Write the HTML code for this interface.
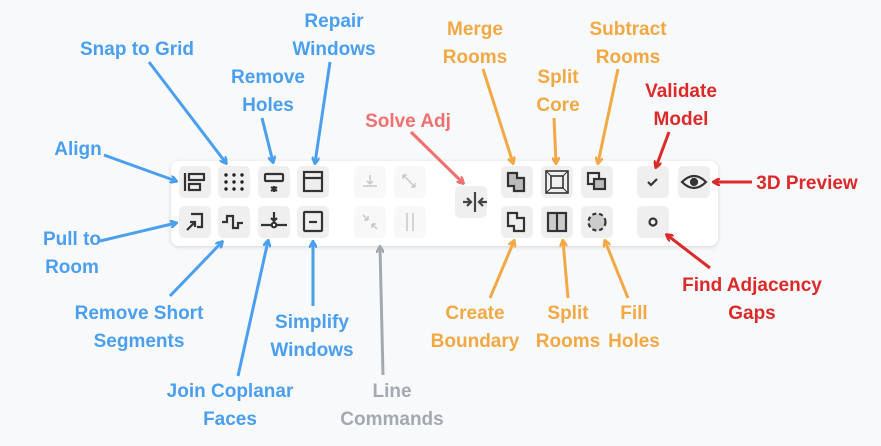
<!DOCTYPE html>
<html><head><meta charset="utf-8"><style>
html,body{margin:0;padding:0;background:#f8f9fb;}
svg{display:block}
text{font-family:"Liberation Sans",sans-serif;font-size:19px;font-weight:bold;text-anchor:middle}
.b{fill:#4a9ff0}.o{fill:#f2a844}.r{fill:#dc2a2a}.s{fill:#f07070}.g{fill:#a3a9b1}
</style></head><body>
<svg width="881" height="446" viewBox="0 0 881 446">
<defs>
<filter id="sh" x="-5%" y="-20%" width="110%" height="140%"><feDropShadow dx="0" dy="1" stdDeviation="2" flood-color="#000" flood-opacity="0.15"/></filter>
<marker id="ab" markerWidth="8" markerHeight="8" refX="6" refY="4" orient="auto" markerUnits="userSpaceOnUse"><path d="M0,0 L7,4 L0,8" fill="none" stroke="#4a9ff0" stroke-width="2.5"/></marker>
<marker id="ao" markerWidth="8" markerHeight="8" refX="6" refY="4" orient="auto" markerUnits="userSpaceOnUse"><path d="M0,0 L7,4 L0,8" fill="none" stroke="#f2a844" stroke-width="2.5"/></marker>
<marker id="ar" markerWidth="8" markerHeight="8" refX="6" refY="4" orient="auto" markerUnits="userSpaceOnUse"><path d="M0,0 L7,4 L0,8" fill="none" stroke="#dc2a2a" stroke-width="2.5"/></marker>
<marker id="as" markerWidth="8" markerHeight="8" refX="6" refY="4" orient="auto" markerUnits="userSpaceOnUse"><path d="M0,0 L7,4 L0,8" fill="none" stroke="#f07070" stroke-width="2.5"/></marker>
<marker id="ag" markerWidth="8" markerHeight="8" refX="6" refY="4" orient="auto" markerUnits="userSpaceOnUse"><path d="M0,0 L7,4 L0,8" fill="none" stroke="#a3a9b1" stroke-width="2.5"/></marker>
</defs>
<rect x="171" y="161" width="547" height="85" rx="8" fill="#fff" filter="url(#sh)"/>
<g fill="#efefef">
<rect x="179" y="166" width="32" height="32" rx="5"/><rect x="218" y="166" width="32" height="32" rx="5"/><rect x="258" y="166" width="32" height="32" rx="5"/><rect x="297" y="166" width="32" height="32" rx="5"/>
<rect x="179" y="206" width="32" height="32" rx="5"/><rect x="218" y="206" width="32" height="32" rx="5"/><rect x="258" y="206" width="32" height="32" rx="5"/><rect x="297" y="206" width="32" height="32" rx="5"/>
<rect x="455" y="186" width="32" height="32" rx="5"/>
<rect x="501" y="166" width="32" height="32" rx="5"/><rect x="541" y="166" width="32" height="32" rx="5"/><rect x="581" y="166" width="32" height="32" rx="5"/>
<rect x="501" y="206" width="32" height="32" rx="5"/><rect x="541" y="206" width="32" height="32" rx="5"/><rect x="581" y="206" width="32" height="32" rx="5"/>
<rect x="637" y="166" width="32" height="32" rx="5"/><rect x="678" y="166" width="32" height="32" rx="5"/><rect x="637" y="206" width="32" height="32" rx="5"/>
</g>
<g fill="#f8f8f8"><rect x="354" y="166" width="32" height="32" rx="5"/><rect x="394" y="166" width="32" height="32" rx="5"/><rect x="354" y="206" width="32" height="32" rx="5"/><rect x="394" y="206" width="32" height="32" rx="5"/></g>
<g fill="#222">
<circle cx="226" cy="175" r="1.7"/><circle cx="234" cy="175" r="1.7"/><circle cx="242" cy="175" r="1.7"/>
<circle cx="226" cy="182" r="1.7"/><circle cx="234" cy="182" r="1.7"/><circle cx="242" cy="182" r="1.7"/>
<circle cx="226" cy="189" r="1.7"/><circle cx="234" cy="189" r="1.7"/><circle cx="242" cy="189" r="1.7"/>
</g>
<g stroke="#333" stroke-width="2.2" fill="none">
<path d="M185,173v18"/><rect x="189" y="174" width="15" height="6"/><rect x="189" y="184" width="11" height="6"/>
<path d="M274,186v6M271,191l6,-4M271,187l6,4"/><rect x="265" y="174" width="18" height="7" rx="1"/>
<rect x="304" y="172" width="18" height="19"/><path d="M304,178h18"/>
<path d="M187,230l8,-8M190,222h5v5M191,214h11v13h-5"/>
<path d="M222,222h5v-6h6v12h5v-5h5"/>
<path d="M261,225h26M274,212v9M271,218l3,3l3,-3"/><circle cx="274" cy="225" r="2.3" fill="#fff"/>
<rect x="304" y="212" width="18" height="19" rx="1"/><path d="M309,222h8"/>
<path d="M463,202h8M467,198l4,4l-4,4M479,202h8M483,198l-4,4l4,4M475,192v20" stroke="#444"/>
<path d="M508,173h9v5h7v13h-10v-5h-6z" fill="#bbb"/>
<rect x="546" y="171" width="22" height="22" stroke-width="1.6"/><rect x="551" y="176" width="12" height="12" stroke-width="1.6"/><path d="M546,171l5,5M568,171l-5,5M546,193l5,-5M568,193l-5,-5" stroke-width="1"/>
<rect x="588" y="173" width="11" height="11"/><rect x="594" y="179" width="11" height="10" fill="#bbb"/>
<path d="M508,213h9v5h7v13h-10v-5h-6z"/>
<rect x="548" y="213" width="18" height="18" fill="#ccc"/><path d="M557,213v18"/>
<circle cx="597" cy="222" r="8.5" fill="#ccc" stroke-dasharray="4 3"/>
<path d="M648,182l3,3l6,-6"/>
<path d="M682,182q12,-12 24,0q-12,12 -24,0z"/><circle cx="694" cy="182" r="3" fill="#333"/>
<circle cx="653" cy="222" r="3.5"/>
</g>
<g stroke="#c8c8c8" stroke-width="1.5" fill="none">
<path d="M363,186h14M370,175v9M367,181l3,3l3,-3"/>
<path d="M403,175l12,12M403,175h4M403,175v4M415,187h-4M415,187v-4"/>
<path d="M363,215l5,5M368,220h-4M368,220v-4M377,229l-5,-5M372,224h4M372,224v4"/>
<path d="M407,213v18M413,213v18"/>
</g>
<g stroke-width="3" fill="none">
<path d="M149,62L226,163" stroke="#4a9ff0" marker-end="url(#ab)"/>
<path d="M330,62L315,163" stroke="#4a9ff0" marker-end="url(#ab)"/>
<path d="M262,118L273,162" stroke="#4a9ff0" marker-end="url(#ab)"/>
<path d="M104,155L176,181" stroke="#4a9ff0" marker-end="url(#ab)"/>
<path d="M100,241L176,223" stroke="#4a9ff0" marker-end="url(#ab)"/>
<path d="M170,296L222,242" stroke="#4a9ff0" marker-end="url(#ab)"/>
<path d="M313,306L313,242" stroke="#4a9ff0" marker-end="url(#ab)"/>
<path d="M238,376L268,241" stroke="#4a9ff0" marker-end="url(#ab)"/>
<path d="M383,375L380,247" stroke="#a3a9b1" marker-end="url(#ag)"/>
<path d="M411,132L463,183" stroke="#f07070" marker-end="url(#as)"/>
<path d="M483,69L513,163" stroke="#f2a844" marker-end="url(#ao)"/>
<path d="M554,118L556,163" stroke="#f2a844" marker-end="url(#ao)"/>
<path d="M618,69L598,163" stroke="#f2a844" marker-end="url(#ao)"/>
<path d="M490,298L514,241" stroke="#f2a844" marker-end="url(#ao)"/>
<path d="M568,298L563,241" stroke="#f2a844" marker-end="url(#ao)"/>
<path d="M628,298L605,241" stroke="#f2a844" marker-end="url(#ao)"/>
<path d="M669,132L656,167" stroke="#dc2a2a" marker-end="url(#ar)"/>
<path d="M752,182L714,182" stroke="#dc2a2a" marker-end="url(#ar)"/>
<path d="M710,268L667,235" stroke="#dc2a2a" marker-end="url(#ar)"/>
</g>
<text class="b" x="137" y="55">Snap to Grid</text>
<text class="b" x="334" y="27">Repair</text><text class="b" x="334" y="55">Windows</text>
<text class="b" x="268" y="83">Remove</text><text class="b" x="268" y="111">Holes</text>
<text class="b" x="78" y="155">Align</text>
<text class="b" x="72" y="245">Pull to</text><text class="b" x="72" y="273">Room</text>
<text class="b" x="139" y="319">Remove Short</text><text class="b" x="139" y="347">Segments</text>
<text class="b" x="312" y="328">Simplify</text><text class="b" x="312" y="356">Windows</text>
<text class="b" x="230" y="397">Join Coplanar</text><text class="b" x="230" y="425">Faces</text>
<text class="g" x="392" y="397">Line</text><text class="g" x="392" y="425">Commands</text>
<text class="s" x="408" y="127">Solve Adj</text>
<text class="o" x="475" y="35">Merge</text><text class="o" x="475" y="63">Rooms</text>
<text class="o" x="558" y="83">Split</text><text class="o" x="558" y="111">Core</text>
<text class="o" x="628" y="35">Subtract</text><text class="o" x="628" y="63">Rooms</text>
<text class="r" x="681" y="97">Validate</text><text class="r" x="681" y="125">Model</text>
<text class="r" x="807" y="189">3D Preview</text>
<text class="r" x="752" y="291">Find Adjacency</text><text class="r" x="752" y="319">Gaps</text>
<text class="o" x="475" y="319">Create</text><text class="o" x="475" y="347">Boundary</text>
<text class="o" x="568" y="319">Split</text><text class="o" x="568" y="347">Rooms</text>
<text class="o" x="634" y="319">Fill</text><text class="o" x="634" y="347">Holes</text>
</svg>
</body></html>
